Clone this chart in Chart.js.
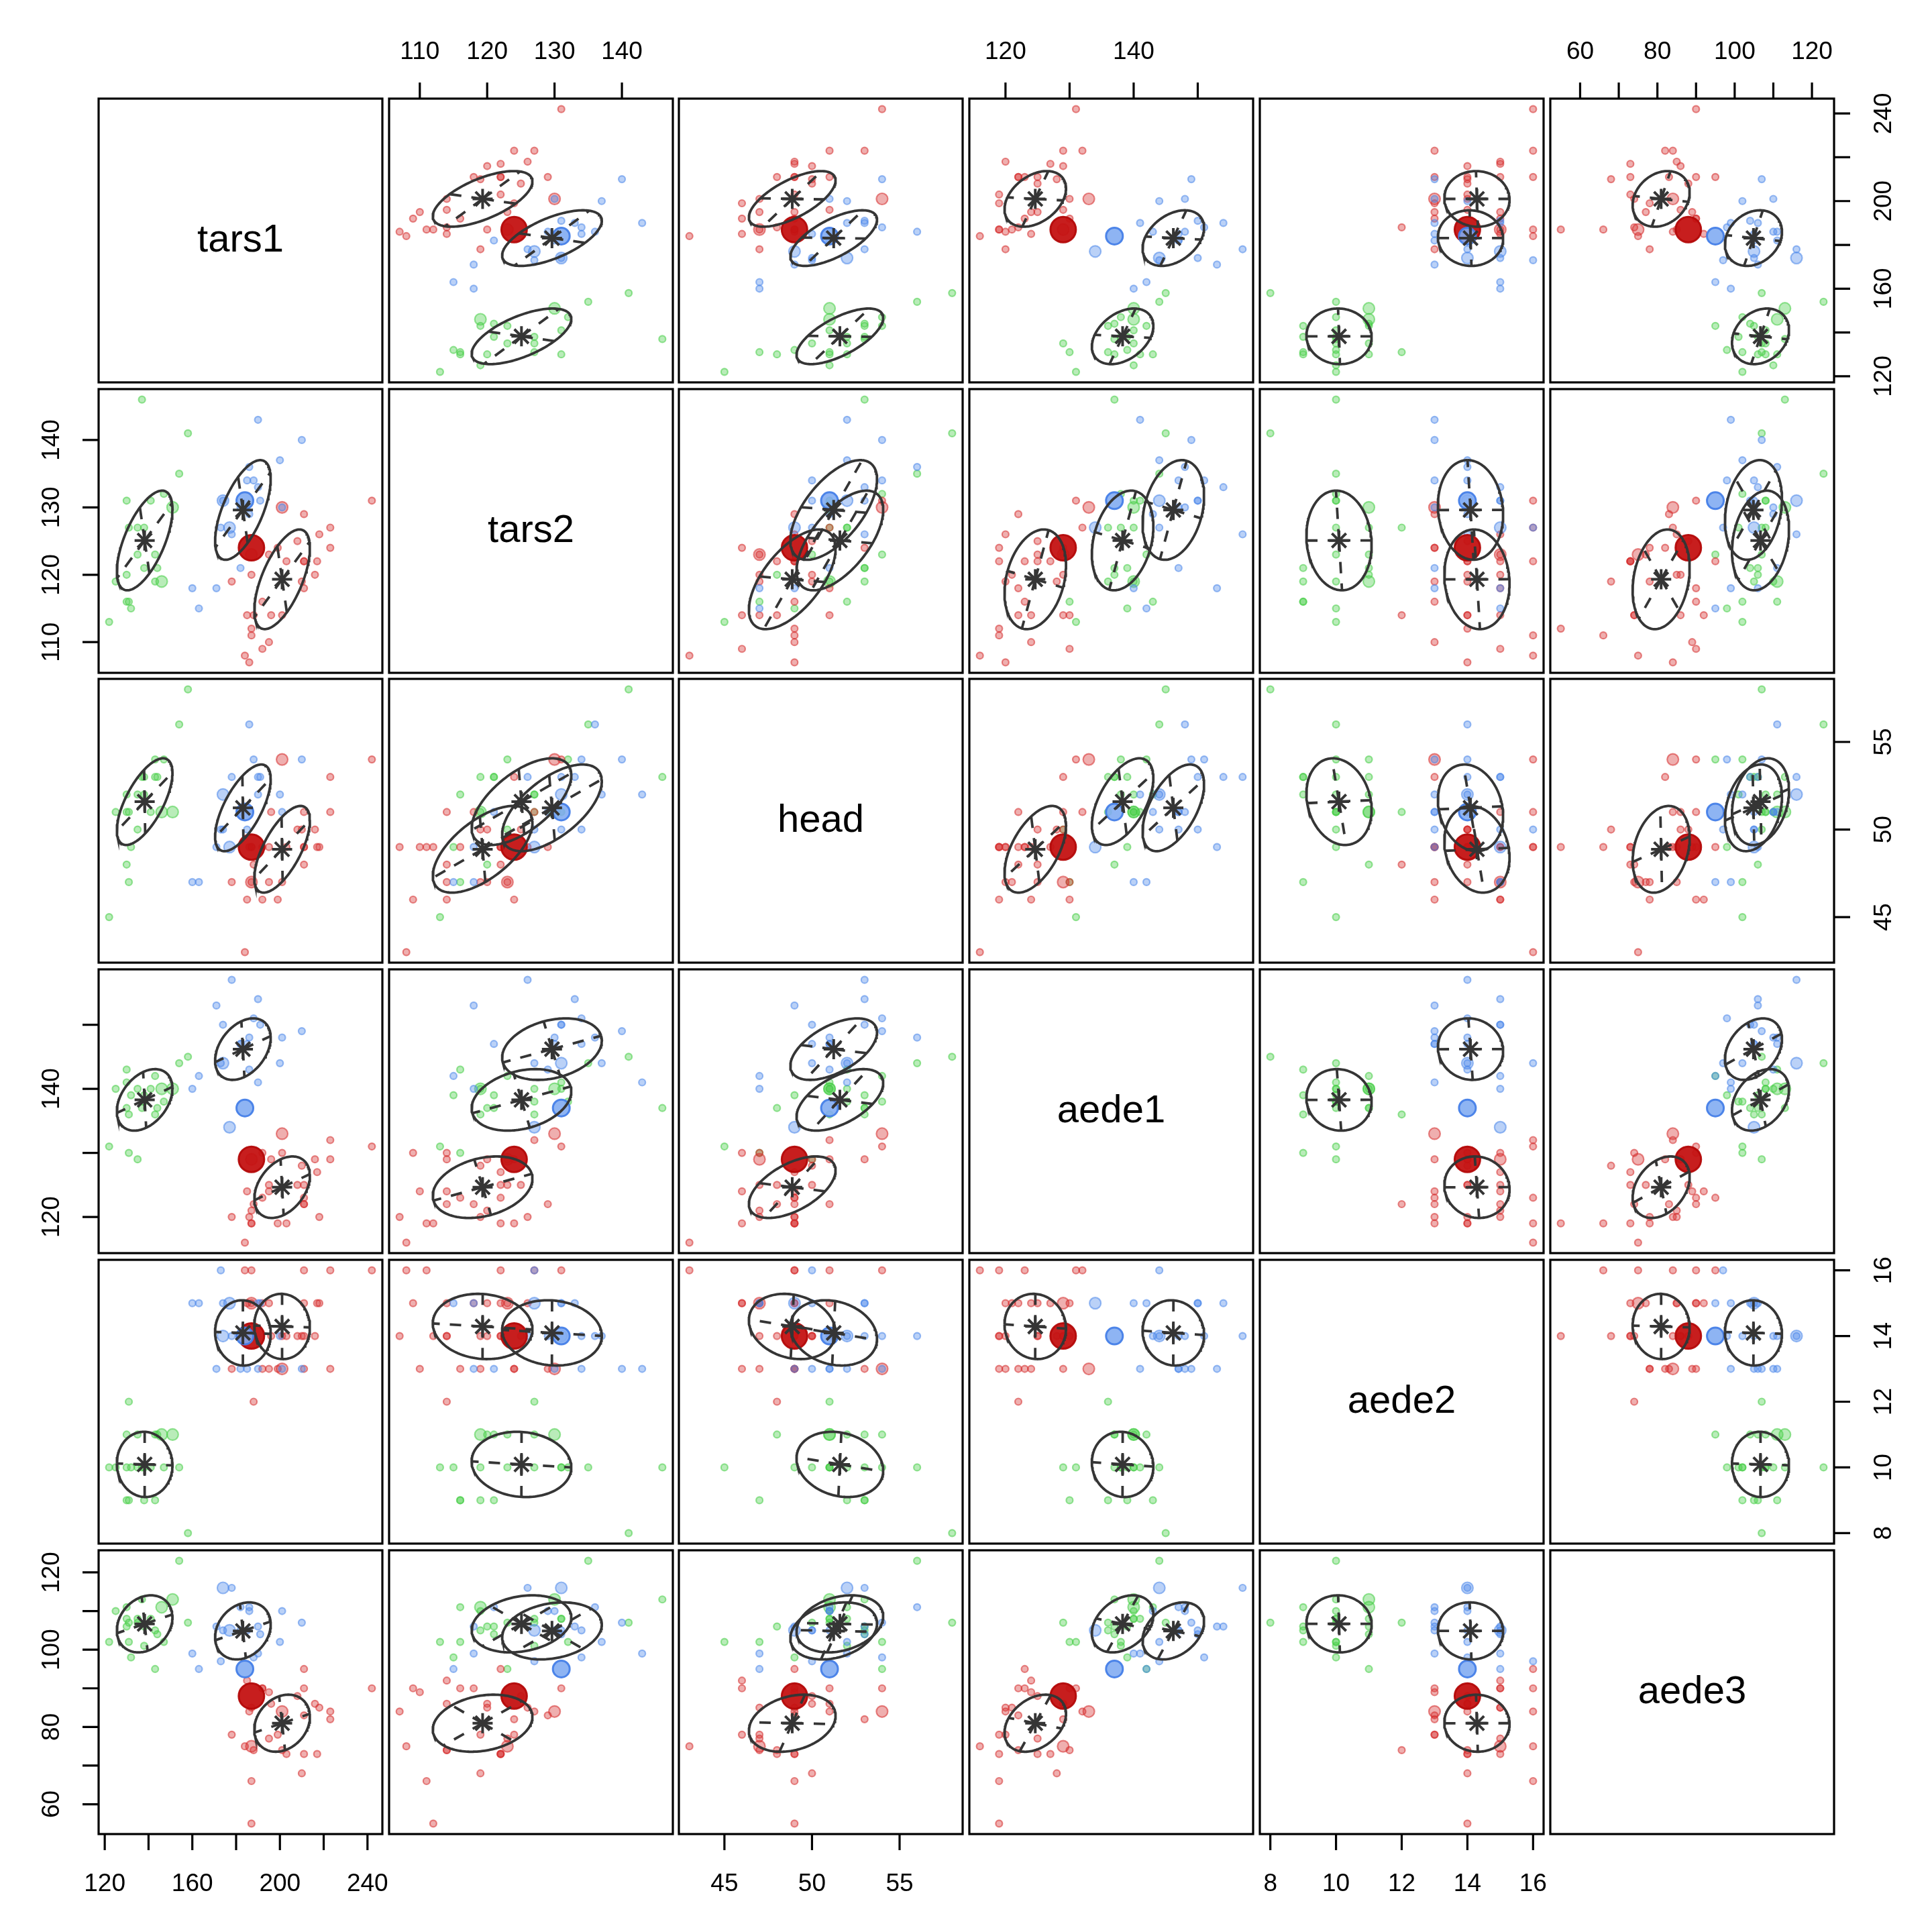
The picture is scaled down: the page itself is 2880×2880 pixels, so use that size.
<!DOCTYPE html>
<html>
<head>
<meta charset="utf-8">
<script src="https://cdn.jsdelivr.net/npm/chart.js@4.4.1/dist/chart.umd.min.js"></script>
<style>
  html, body { margin: 0; padding: 0; background: #ffffff; }
  #grid { position: relative; width: 2880px; height: 2880px; background: #ffffff; }
  #grid canvas { position: absolute; }
</style>
</head>
<body>
<div id="grid"></div>
<script>
// flea beetles: 3 species, 6 measurements
const groups = ["Concinna", "Heikert.", "Heptapot."];
const varNames = ["tars1", "tars2", "head", "aede1", "aede2", "aede3"];

// species index of every beetle (0 = Concinna, 1 = Heikert., 2 = Heptapot.)
const species = [
  0,0,0,0,0,0,0,0,0,0,0,0,0,0,0,0,0,0,0,0,0,
  1,1,1,1,1,1,1,1,1,1,1,1,1,1,1,1,1,1,1,1,1,1,1,1,1,1,1,1,1,1,1,
  2,2,2,2,2,2,2,2,2,2,2,2,2,2,2,2,2,2,2,2,2,2
];

const tars1 = [
  190,210,200,186,185,188,190,184,174,174,191,186,182,173,177,178,182,160,171,163,201,
  186,211,201,242,184,211,217,223,208,199,211,218,203,192,195,211,187,192,223,188,216,185,178,187,187,201,187,210,196,195,187,
  137,158,154,130,141,147,151,131,135,138,135,143,138,144,130,125,143,146,130,131,132,122
];
const tars2 = [
  143,140,137,136,134,134,133,131,131,131,131,129,130,127,127,126,121,118,118,115,130,
  107,122,114,131,108,118,122,127,125,124,129,126,122,116,123,122,123,109,124,114,120,114,119,111,112,130,120,119,114,110,124,
  146,141,135,131,131,132,130,127,127,127,123,123,121,121,120,119,119,119,116,116,115,113
];
const head = [
  52,54,52,56,50,54,53,51,52,50,53,51,51,50,49,53,51,47,49,47,51,
  49,49,47,54,43,51,49,51,50,46,49,49,49,49,47,48,47,46,53,48,50,46,47,49,49,54,47,50,51,49,49,
  53,58,56,51,51,54,51,51,52,52,50,54,53,53,48,51,53,51,52,47,49,45
];
const aede1 = [
  141,149,144,148,147,151,154,137,144,150,150,143,147,144,134,157,147,140,153,142,148,
  120,123,130,131,116,122,127,132,125,119,122,120,119,123,125,125,129,130,129,122,129,124,120,119,119,133,121,128,129,124,129,
  137,145,144,141,140,138,140,136,140,138,129,142,139,137,137,140,136,140,143,130,139,131
];
const aede2 = [
  13,13,14,14,13,14,15,14,14,15,15,14,14,16,15,14,13,15,13,15,13,
  14,16,14,16,16,15,15,16,14,13,13,15,14,13,15,14,15,15,13,12,14,15,13,16,14,13,15,14,14,13,14,
  10,8,10,10,10,10,11,12,11,10,10,11,9,11,11,10,9,11,9,9,10,10
];
const aede3 = [
  99,107,102,111,105,98,106,95,116,105,104,110,105,97,105,116,111,99,106,95,110,
  84,95,74,90,75,90,73,84,88,78,83,85,73,90,77,73,75,90,82,74,86,92,78,66,55,84,85,68,86,89,88,
  113,107,123,108,108,102,113,107,108,101,107,95,106,104,106,110,105,111,111,102,98,102
];

// axis ticks and the tick labels that R kept
const tickValues = {
  tars1: [120,140,160,180,200,220,240],
  tars2: [110,120,130,140],
  head: [45,50,55],
  aede1: [120,130,140,150],
  aede2: [8,10,12,14,16],
  aede3: [60,70,80,90,100,110,120]
};
const tickLabels = {
  tars1: [120,160,200,240],
  tars2: [110,120,130,140],
  head: [45,50,55],
  aede1: [120,140],
  aede2: [8,10,12,14,16],
  aede3: [60,80,100,120]
};

// points drawn larger than the rest (index -> radius)
const bigPoints = { 7: 12.5, 51: 19 };
const midPoints = [8, 14, 37, 46, 58, 69];

// ---- styles / layout ----
const groupRGB = ["74,134,234", "214,44,44", "70,205,70"];
const X0 = 147, Y0 = 147, PITCH = 432.7, SIZE = 423, M = 110;
const LINE = "#353535";
const FONT = "'Liberation Sans', Arial, Helvetica, sans-serif";

const data = { tars1, tars2, head, aede1, aede2, aede3 };
const N = species.length;
const G = groups.length;

// group means
const means = {};
varNames.forEach((v) => {
  means[v] = groups.map((g, k) => {
    let s = 0, n = 0;
    data[v].forEach((val, i) => { if (species[i] === k) { s += val; n++; } });
    return s / n;
  });
});

// pooled within-group covariance
function pooledCov(vx, vy) {
  let s = 0;
  for (let i = 0; i < N; i++) {
    const g = species[i];
    s += (data[vx][i] - means[vx][g]) * (data[vy][i] - means[vy][g]);
  }
  return s / (N - G);
}

// axis limits like R (range + 4% each side)
const limits = {};
varNames.forEach((v) => {
  const lo = Math.min(...data[v]), hi = Math.max(...data[v]);
  const pad = (hi - lo) * 0.04;
  limits[v] = [lo - pad, hi + pad];
});

// eigen decomposition of a 2x2 symmetric matrix
function eigen2(a, b, d) {
  const tr = (a + d) / 2;
  const disc = Math.sqrt(((a - d) / 2) ** 2 + b * b);
  const l1 = tr + disc, l2 = tr - disc;
  let v1;
  if (Math.abs(b) < 1e-12) v1 = a >= d ? [1, 0] : [0, 1];
  else v1 = [b, l1 - a];
  const n1 = Math.hypot(v1[0], v1[1]);
  v1 = [v1[0] / n1, v1[1] / n1];
  const v2 = [-v1[1], v1[0]];
  return { l1, l2, v1, v2 };
}

// draws frame, axes and the diagonal label
const panelPlugin = {
  id: "panel",
  afterDraw(chart, args, opts) {
    const { ctx, chartArea: a, scales } = chart;
    ctx.save();
    ctx.strokeStyle = "#000";
    ctx.lineWidth = 3.2;
    ctx.strokeRect(a.left, a.top, a.right - a.left, a.bottom - a.top);

    ctx.fillStyle = "#000";
    ctx.font = "37px " + FONT;
    const tl = 24, gap = 72, half = 13;

    if (opts.top || opts.bottom) {
      const v = opts.top || opts.bottom;
      const sign = opts.top ? -1 : 1;
      const y0 = opts.top ? a.top : a.bottom;
      ctx.beginPath();
      tickValues[v].forEach((t) => {
        const x = scales.x.getPixelForValue(t);
        ctx.moveTo(x, y0);
        ctx.lineTo(x, y0 + sign * tl);
      });
      ctx.stroke();
      ctx.textAlign = "center";
      ctx.textBaseline = "alphabetic";
      tickLabels[v].forEach((t) => {
        const x = scales.x.getPixelForValue(t);
        ctx.fillText(String(t), x, y0 + sign * gap + half);
      });
    }
    if (opts.left || opts.right) {
      const v = opts.left || opts.right;
      const sign = opts.left ? -1 : 1;
      const x0 = opts.left ? a.left : a.right;
      ctx.beginPath();
      tickValues[v].forEach((t) => {
        const y = scales.y.getPixelForValue(t);
        ctx.moveTo(x0, y);
        ctx.lineTo(x0 + sign * tl, y);
      });
      ctx.stroke();
      tickLabels[v].forEach((t) => {
        const y = scales.y.getPixelForValue(t);
        ctx.save();
        ctx.translate(x0 + sign * gap, y);
        ctx.rotate(-Math.PI / 2);
        ctx.textAlign = "center";
        ctx.textBaseline = "alphabetic";
        ctx.fillText(String(t), 0, half);
        ctx.restore();
      });
    }
    if (opts.label) {
      ctx.font = "58px " + FONT;
      ctx.textAlign = "center";
      ctx.textBaseline = "middle";
      ctx.fillText(opts.label, (a.left + a.right) / 2, (a.top + a.bottom) / 2);
    }
    ctx.restore();
  }
};

function buildDatasets(vx, vy) {
  const sets = [];
  const cxx = pooledCov(vx, vx), cyy = pooledCov(vy, vy), cxy = pooledCov(vx, vy);
  const e = eigen2(cxx, cxy, cyy);
  const r1 = Math.sqrt(e.l1), r2 = Math.sqrt(Math.max(e.l2, 0));

  groups.forEach((g, k) => {
    const mx = means[vx][k], my = means[vy][k];
    // centre star
    sets.push({
      data: [{ x: mx, y: my }],
      pointStyle: "star", pointRadius: 15, pointBorderWidth: 4,
      pointBorderColor: LINE, pointBackgroundColor: LINE, order: 0
    });
    // principal axes, dashed, drawn from the centre outward
    [[e.v1, r1], [e.v2, r2]].forEach(([v, r]) => {
      [1, -1].forEach((s) => {
        sets.push({
          data: [{ x: mx, y: my }, { x: mx + s * r * v[0], y: my + s * r * v[1] }],
          showLine: true, pointRadius: 0, borderColor: LINE, borderWidth: 3.8,
          borderDash: [17, 15], order: 1
        });
      });
    });
    // ellipse (1 sd of pooled covariance)
    const pts = [];
    for (let j = 0; j <= 160; j++) {
      const t = (j / 160) * 2 * Math.PI;
      pts.push({
        x: mx + Math.cos(t) * r1 * e.v1[0] + Math.sin(t) * r2 * e.v2[0],
        y: my + Math.cos(t) * r1 * e.v1[1] + Math.sin(t) * r2 * e.v2[1]
      });
    }
    sets.push({
      data: pts, showLine: true, pointRadius: 0, borderColor: LINE,
      borderWidth: 3.8, tension: 0, order: 2
    });
  });

  // big highlighted points
  Object.keys(bigPoints).forEach((key) => {
    const i = Number(key);
    const red = species[i] === 1;
    sets.push({
      data: [{ x: data[vx][i], y: data[vy][i] }],
      pointRadius: bigPoints[key],
      pointBackgroundColor: red ? "rgba(196,18,18,0.95)" : "rgba(130,172,242,0.9)",
      pointBorderColor: red ? "rgba(180,10,10,0.95)" : "rgba(70,128,232,0.95)",
      pointBorderWidth: 3, order: 3
    });
  });

  // ordinary points, one dataset per species
  groups.forEach((g, k) => {
    const pts = [], radii = [];
    for (let i = 0; i < N; i++) {
      if (species[i] !== k || bigPoints[i] !== undefined) continue;
      pts.push({ x: data[vx][i], y: data[vy][i] });
      radii.push(midPoints.includes(i) ? 8.5 : 5);
    }
    const c = groupRGB[k];
    sets.push({
      data: pts, pointRadius: radii,
      pointBackgroundColor: "rgba(" + c + ",0.38)",
      pointBorderColor: "rgba(" + c + ",0.55)",
      pointBorderWidth: 2.2, order: 4 + k
    });
  });
  return sets;
}

const grid = document.getElementById("grid");

function addPanel(r, c) {
  const cv = document.createElement("canvas");
  const left = Math.round(X0 + c * PITCH) - M;
  const top = Math.round(Y0 + r * PITCH) - M;
  cv.width = SIZE + 2 * M;
  cv.height = SIZE + 2 * M;
  cv.style.left = left + "px";
  cv.style.top = top + "px";
  grid.appendChild(cv);

  const vx = varNames[c], vy = varNames[r];
  const panelOpts = {};
  if (r === c) panelOpts.label = vx;
  if (r === 0 && c % 2 === 1) panelOpts.top = vx;
  if (r === 5 && c % 2 === 0) panelOpts.bottom = vx;
  if (c === 0 && r % 2 === 1) panelOpts.left = vy;
  if (c === 5 && r % 2 === 0) panelOpts.right = vy;

  new Chart(cv, {
    type: "scatter",
    data: { datasets: r === c ? [] : buildDatasets(vx, vy) },
    options: {
      responsive: false,
      animation: false,
      devicePixelRatio: 1,
      events: [],
      layout: { padding: M },
      plugins: { legend: { display: false }, tooltip: { enabled: false }, panel: panelOpts },
      scales: {
        x: { type: "linear", display: false, min: limits[vx][0], max: limits[vx][1] },
        y: { type: "linear", display: false, min: limits[vy][0], max: limits[vy][1] }
      }
    },
    plugins: [panelPlugin]
  });
}

for (let r = 0; r < 6; r++) {
  for (let c = 0; c < 6; c++) addPanel(r, c);
}
</script>
</body>
</html>
